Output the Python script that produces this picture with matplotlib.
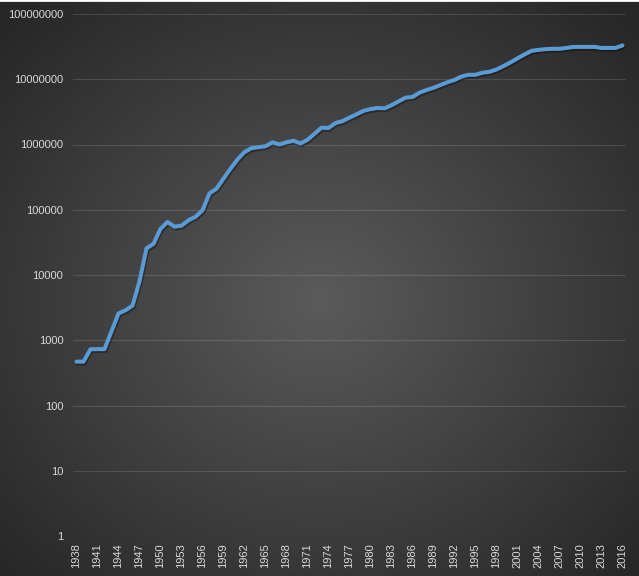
import numpy as np
import matplotlib
matplotlib.use('Agg')
import matplotlib.pyplot as plt
import matplotlib.patheffects as pe
from matplotlib.ticker import FixedLocator, FuncFormatter

years = list(range(1938, 2017))
values = [
    470, 470, 730, 730, 730, 1370, 2570, 2880, 3390, 8000,
    25600, 30000, 51000, 65000, 55000, 57000, 69000, 78000, 98000, 178000,
    210000, 300000, 425000, 590000, 765000, 880000, 910000, 940000, 1080000, 1000000,
    1080000, 1140000, 1040000, 1180000, 1460000, 1810000, 1790000, 2130000, 2280000, 2580000,
    2900000, 3280000, 3490000, 3630000, 3580000, 4000000, 4570000, 5220000, 5350000, 6230000,
    6830000, 7400000, 8170000, 9000000, 9750000, 11000000, 11700000, 11700000, 12600000, 13000000,
    14100000, 15900000, 18100000, 20900000, 24000000, 27200000, 28200000, 28900000, 29300000, 29300000,
    30200000, 31300000, 31300000, 31300000, 31300000, 30200000, 30200000, 30200000, 33000000,
]
tick_years = years[::3]
y_ticks = [1, 10, 100, 1000, 10000, 100000, 1000000, 10000000, 100000000]

plt.rcParams['font.family'] = ['Liberation Sans', 'DejaVu Sans']

W, H = 639, 576
fig = plt.figure(figsize=(W / 100, H / 100), dpi=100)

# radial gradient background like Excel's dark style
bg = fig.add_axes([0, 0, 1, 1], zorder=-1)
yy, xx = np.mgrid[0:H, 0:W]
r = np.sqrt(((xx - W * 0.5) / (W * 0.68)) ** 2 + ((yy - H * 0.52) / (H * 0.68)) ** 2)
shade = 0.355 - 0.2 * np.clip(r, 0, 1)
bg.imshow(np.dstack([shade] * 3), extent=[0, 1, 0, 1], aspect='auto')
bg.axis('off')
bg.axhline(1, color='white', lw=2)

ax = fig.add_axes([73 / W, 40 / H, 553 / W, 522 / H])
ax.patch.set_alpha(0)
ax.set_yscale('log')
ax.set_ylim(1, 1e8)
ax.set_xlim(1937.5, 2016.5)

ax.plot(years, values, color='#5B9BD5', lw=2.9, solid_joinstyle='round',
        solid_capstyle='round', zorder=3,
        path_effects=[pe.SimpleLineShadow(offset=(0.8, -1.2), shadow_color='black', alpha=0.35),
                      pe.Normal()])

ax.yaxis.set_major_locator(FixedLocator(y_ticks))
ax.yaxis.set_minor_locator(FixedLocator([]))
ax.yaxis.set_major_formatter(FuncFormatter(lambda v, p: '%d' % round(v)))
ax.set_xticks(tick_years)
ax.set_xticklabels([str(y) for y in tick_years], rotation=90)
ax.grid(axis='y', color='white', alpha=0.13, lw=0.8)
ax.set_axisbelow(True)
ax.tick_params(axis='both', length=0, colors='#d9d9d9', labelsize=8)
ax.tick_params(axis='y', pad=7)
ax.tick_params(axis='x', pad=5)
for s in ax.spines.values():
    s.set_visible(False)

fig.savefig('out.png', dpi=100)
